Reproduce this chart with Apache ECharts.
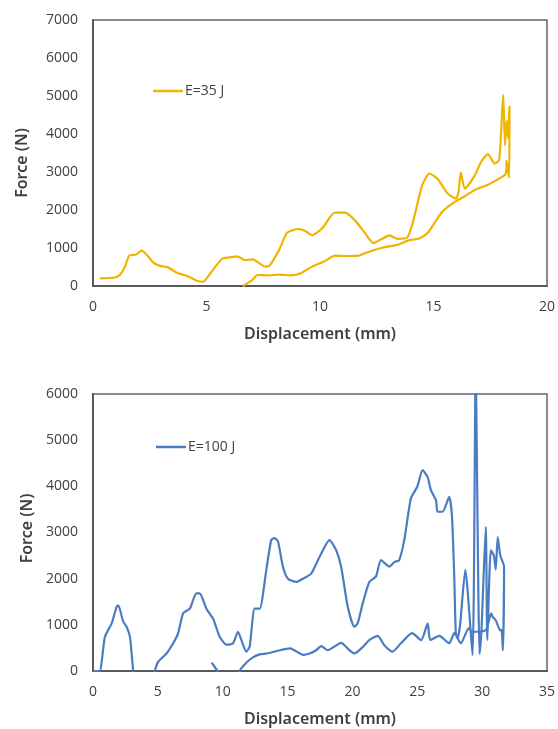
<!DOCTYPE html>
<html>
<head>
<meta charset="utf-8">
<script src="https://cdn.jsdelivr.net/npm/echarts@6/dist/echarts.min.js"></script>
<style>
  html, body { margin: 0; padding: 0; background: #fff; }
  #chart { width: 558px; height: 729px; }
</style>
</head>
<body>
<div id="chart"></div>
<script>
// E=35 J curve (loading then unloading branch), displacement mm / force N
const disp35 = [0.3, 0.7, 1.0, 1.2, 1.4, 1.6, 1.9, 2.15, 2.4, 2.65, 2.95, 3.3, 3.7, 4.2, 4.6, 4.85,
  5.25, 5.7, 6.1, 6.35, 6.7, 7.05, 7.3, 7.6, 7.75, 8.2, 8.55, 9.05, 9.35, 9.65, 10.1, 10.65,
  11.1, 11.55, 12.0, 12.35, 12.7, 13.05, 13.45, 13.85, 14.1, 14.5, 14.82, 15.2, 15.6, 15.98,
  16.1, 16.2, 16.38, 16.8, 17.1, 17.4, 17.7, 17.9, 18.07, 18.15, 18.22, 18.28, 18.35, 18.33,
  18.22, 18.18, 17.7, 17.3, 16.85, 16.4, 15.9, 15.35, 14.75, 14.38, 13.9, 13.44, 12.7, 12.0,
  11.7, 11.1, 10.65, 10.2, 9.65, 9.2, 8.75, 8.2, 7.75, 7.25, 7.0, 6.6];
const force35 = [200, 210, 230, 300, 500, 800, 830, 930, 800, 620, 530, 490, 350, 250, 130, 110,
  400, 720, 760, 780, 680, 700, 610, 510, 520, 950, 1400, 1500, 1450, 1340, 1520, 1930,
  1930, 1720, 1380, 1130, 1230, 1330, 1240, 1280, 1700, 2650, 2960, 2800, 2450, 2300,
  2450, 2990, 2560, 2890, 3270, 3470, 3220, 3330, 5030, 3700, 4350, 3900, 4740, 2850,
  3300, 2950, 2760, 2640, 2540, 2370, 2200, 1930, 1400, 1250, 1200, 1090, 1000, 870,
  800, 790, 800, 650, 510, 350, 280, 300, 280, 290, 150, 0];

// E=100 J curve
const disp100 = [0, 0.5, 0.92, 1.44, 1.82, 1.95, 2.33, 2.59, 2.85, 3.1, 3.3, 4.6, 4.77, 5.02,
  5.67, 6.18, 6.56, 6.95, 7.46, 7.97, 8.23, 8.74, 9.26, 9.77, 10.28, 10.8, 11.18, 11.44, 11.82,
  12.08, 12.46, 12.85, 13.36, 13.74, 14.0, 14.27, 14.64, 15.03, 15.67, 16.18, 16.82, 17.46,
  18.23, 18.74, 19.13, 19.64, 20.15, 20.4, 20.79, 21.3, 21.82, 22.2, 22.85, 23.23, 23.6, 24.0,
  24.51, 25.0, 25.41, 25.8, 26.05, 26.44, 26.56, 26.95, 27.46, 27.67, 27.85, 27.97, 28.1, 28.3,
  28.7, 29.26, 29.5, 29.8, 29.95, 30.28, 30.4, 30.67, 30.9, 31.05, 31.2, 31.4, 31.69, 31.6,
  31.5, 31.4, 31.05, 30.8, 30.7, 30.3, 29.6, 29.2, 28.97, 28.36, 27.85, 27.46, 26.7, 26.0,
  25.8, 25.3, 24.6, 23.74, 23.1, 22.46, 21.95, 21.3, 20.8, 20.15, 19.77, 19.13, 18.1, 17.6,
  17.2, 16.7, 16.2, 15.7, 15.2, 14.4, 13.6, 12.85, 12.3, 11.82, 11.3, 11.0];
const force100 = [0, 0, 740, 1030, 1390, 1420, 1070, 960, 740, 0, -300, -300, 0, 200,
  380, 600, 815, 1250, 1350, 1680, 1680, 1350, 1130, 740, 570, 600, 850, 670, 420,
  530, 1350, 1350, 2190, 2835, 2880, 2800, 2260, 2000, 1930, 2000, 2110, 2470,
  2835, 2620, 2260, 1390, 960, 1030, 1460, 1930, 2050, 2400, 2260, 2360, 2400, 2840,
  3740, 3990, 4350, 4200, 3920, 3700, 3450, 3450, 3770, 3370, 2050, 815, 700, 1000,
  2190, 345, 6500, 370, 900, 3120, 670, 2620, 2500, 2200, 2900, 2500, 2260, 450,
  890, 880, 1100, 1180, 1250, 890, 850, 850, 930, 600, 820, 600, 760, 670,
  1030, 670, 820, 600, 420, 560, 760, 670, 520, 380, 450, 610, 450, 540,
  450, 380, 350, 420, 490, 450, 390, 360, 290, 180, 0, -300];
// short detached piece of the E=100 J curve near 9 mm
const disp100b = [9.15, 9.6, 9.8];
const force100b = [180, 0, -200];

const xTicks35 = { min: 0, max: 20, step: 5 };
const yTicks35 = { min: 0, max: 7000, step: 1000 };
const xTicks100 = { min: 0, max: 35, step: 5 };
const yTicks100 = { min: 0, max: 6000, step: 1000 };

const pairs = (xs, ys) => xs.map((x, i) => [x, ys[i]]);

const textColor = "#404040";
const fontFam = "'Open Sans', 'DejaVu Sans', sans-serif";
const titleFam = "'Noto Sans', 'Open Sans', sans-serif";
const gold = "#F0B400";
const blue = "#4A7CC2";

function xAxisOf(idx, t) {
  return {
    type: "value", gridIndex: idx, min: t.min, max: t.max, interval: t.step,
    name: "Displacement (mm)", nameLocation: "middle", nameGap: 40,
    nameTextStyle: { color: textColor, fontSize: 16, fontWeight: 600, fontFamily: titleFam },
    axisLine: { show: true, onZero: false, lineStyle: { color: "#595959", width: 2 } },
    axisTick: { show: false },
    splitLine: { show: false },
    axisLabel: { color: textColor, fontSize: 14, margin: 14, fontFamily: fontFam, formatter: v => String(v) }
  };
}
function yAxisOf(idx, t, gap, pad) {
  return {
    type: "value", gridIndex: idx, min: t.min, max: t.max, interval: t.step,
    name: "Force (N)", nameLocation: "middle", nameGap: gap,
    nameTextStyle: { color: textColor, fontSize: 16, fontWeight: 600, fontFamily: titleFam, padding: pad },
    axisLine: { show: true, lineStyle: { color: "#595959", width: 2 } },
    axisTick: { show: false },
    splitLine: { show: false },
    axisLabel: { color: textColor, fontSize: 14, margin: 15, fontFamily: fontFam, formatter: v => String(v) }
  };
}

const chart = echarts.init(document.getElementById("chart"), null, { renderer: "canvas" });
chart.setOption({
  backgroundColor: "#fff",
  animation: false,
  grid: [
    { left: 93, top: 20, width: 457, height: 266, show: true, borderColor: "#666", borderWidth: 1.5 },
    { left: 93, top: 394, width: 455, height: 277, show: true, borderColor: "#666", borderWidth: 1.5 }
  ],
  legend: [
    {
      data: ["E=35 J"], left: 153, top: 84, padding: 0, icon: "rect", itemWidth: 30, itemHeight: 2.5,
      textStyle: { color: textColor, fontSize: 14, fontFamily: fontFam, padding: [0, 0, 0, -3] }
    },
    {
      data: ["E=100 J"], left: 156, top: 440, padding: 0, icon: "rect", itemWidth: 30, itemHeight: 2.5,
      textStyle: { color: textColor, fontSize: 14, fontFamily: fontFam, padding: [0, 0, 0, -3] }
    }
  ],
  xAxis: [xAxisOf(0, xTicks35), xAxisOf(1, xTicks100)],
  yAxis: [yAxisOf(0, yTicks35, 63, [0, 20, 0, 0]), yAxisOf(1, yTicks100, 58, [0, 0, 0, 8])],
  series: [
    {
      name: "E=35 J", type: "line", xAxisIndex: 0, yAxisIndex: 0,
      data: pairs(disp35, force35), showSymbol: false, smooth: 0.2, clip: true,
      lineStyle: { color: gold, width: 2.2 }, itemStyle: { color: gold }
    },
    {
      name: "E=100 J", type: "line", xAxisIndex: 1, yAxisIndex: 1,
      data: pairs(disp100, force100), showSymbol: false, smooth: 0.2, clip: true,
      lineStyle: { color: blue, width: 2.2 }, itemStyle: { color: blue }
    },
    {
      name: "E=100 J", type: "line", xAxisIndex: 1, yAxisIndex: 1,
      data: pairs(disp100b, force100b), showSymbol: false, clip: true,
      lineStyle: { color: blue, width: 2.2 }, itemStyle: { color: blue }
    }
  ]
});
</script>
</body>
</html>
